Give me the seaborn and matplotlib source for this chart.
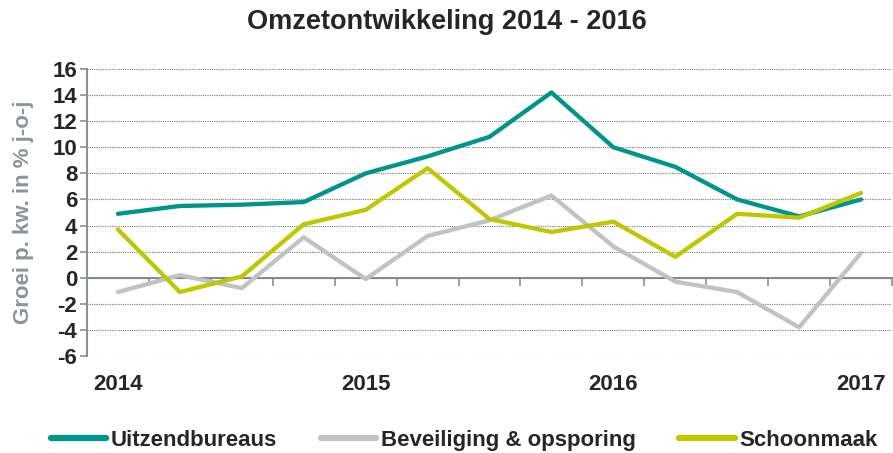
import numpy as np
import pandas as pd
import matplotlib
matplotlib.use("Agg")
import matplotlib.pyplot as plt
import seaborn as sns

# kwartalen 2014 Q1 .. 2017 Q1
kwartalen = list(range(13))
jaar_labels = ["2014", "2015", "2016", "2017"]
jaar_pos = [0, 4, 8, 12]

uitzendbureaus = [4.9, 5.5, 5.6, 5.8, 8.0, 9.3, 10.8, 14.2, 10.0, 8.5, 6.0, 4.7, 6.0]
beveiliging = [-1.1, 0.2, -0.8, 3.1, -0.1, 3.2, 4.4, 6.3, 2.4, -0.3, -1.1, -3.8, 1.9]
schoonmaak = [3.7, -1.1, 0.1, 4.1, 5.2, 8.4, 4.5, 3.5, 4.3, 1.6, 4.9, 4.6, 6.5]

reeksen = ["Uitzendbureaus", "Beveiliging & opsporing", "Schoonmaak"]
kleuren = ["#00958a", "#c0c2c4", "#bdc800"]

df = pd.DataFrame({
    "kwartaal": kwartalen * 3,
    "groei": uitzendbureaus + beveiliging + schoonmaak,
    "reeks": [reeksen[0]] * 13 + [reeksen[1]] * 13 + [reeksen[2]] * 13,
})

sns.set_style("white")
plt.rcParams["font.family"] = ["Liberation Sans", "DejaVu Sans"]
plt.rcParams["font.weight"] = "bold"

fig = plt.figure(figsize=(8.93, 4.53), dpi=100)
ax = fig.add_axes([87 / 893, 1 - 356 / 453, 805 / 893, 287 / 453])

sns.lineplot(data=df, x="kwartaal", y="groei", hue="reeks", palette=kleuren,
             hue_order=reeksen, linewidth=3.1, ax=ax, legend=False, zorder=3)

ax.set_xlim(-0.5, 12.5)
ax.set_ylim(-6, 16)
ax.set_yticks(range(-6, 17, 2))
ax.set_yticklabels([str(v) for v in range(-6, 17, 2)], fontsize=16, fontweight="bold")
ax.set_xticks(jaar_pos)
ax.set_xticklabels(jaar_labels, fontsize=16, fontweight="bold")
ax.tick_params(axis="x", length=0, pad=13)
ax.tick_params(axis="y", length=5, width=1.2, color="#8a9094", direction="out", pad=2, left=True)

ax.grid(axis="y", color="#7a7a7a", linestyle=(0, (1, 1)), linewidth=0.8)
ax.grid(axis="x", visible=False)
for side in ["top", "right", "bottom"]:
    ax.spines[side].set_visible(False)
ax.spines["left"].set_color("#8a9094")
ax.spines["left"].set_linewidth(1.5)

# nullijn met kwartaalstreepjes
sec = ax.secondary_xaxis(6 / 22)
sec.set_xticks(np.arange(0.5, 12.6, 1))
sec.set_xticklabels([])
sec.tick_params(axis="x", length=6, width=1.2, color="#8a9094", direction="out")
sec.spines["bottom"].set_color("#8a9094")
sec.spines["bottom"].set_linewidth(1.5)

ax.set_xlabel("")
ax.set_ylabel("Groei p. kw. in % j-o-j", fontsize=16, fontweight="bold",
              color="#8c9498", labelpad=13)

fig.text(0.5, 0.952, "Omzetontwikkeling 2014 - 2016", ha="center", va="center",
         fontsize=19.5, fontweight="bold")

handles = [plt.Line2D([], [], color=c, linewidth=4.5, solid_capstyle="round") for c in kleuren]
fig.legend(handles, reeksen, loc="center", bbox_to_anchor=(0.52, 0.028), ncol=3,
           frameon=False, handlelength=2.5, handletextpad=0.22,
           columnspacing=1.95, prop={"weight": "bold", "size": 16})

fig.savefig("out.png", dpi=100)
